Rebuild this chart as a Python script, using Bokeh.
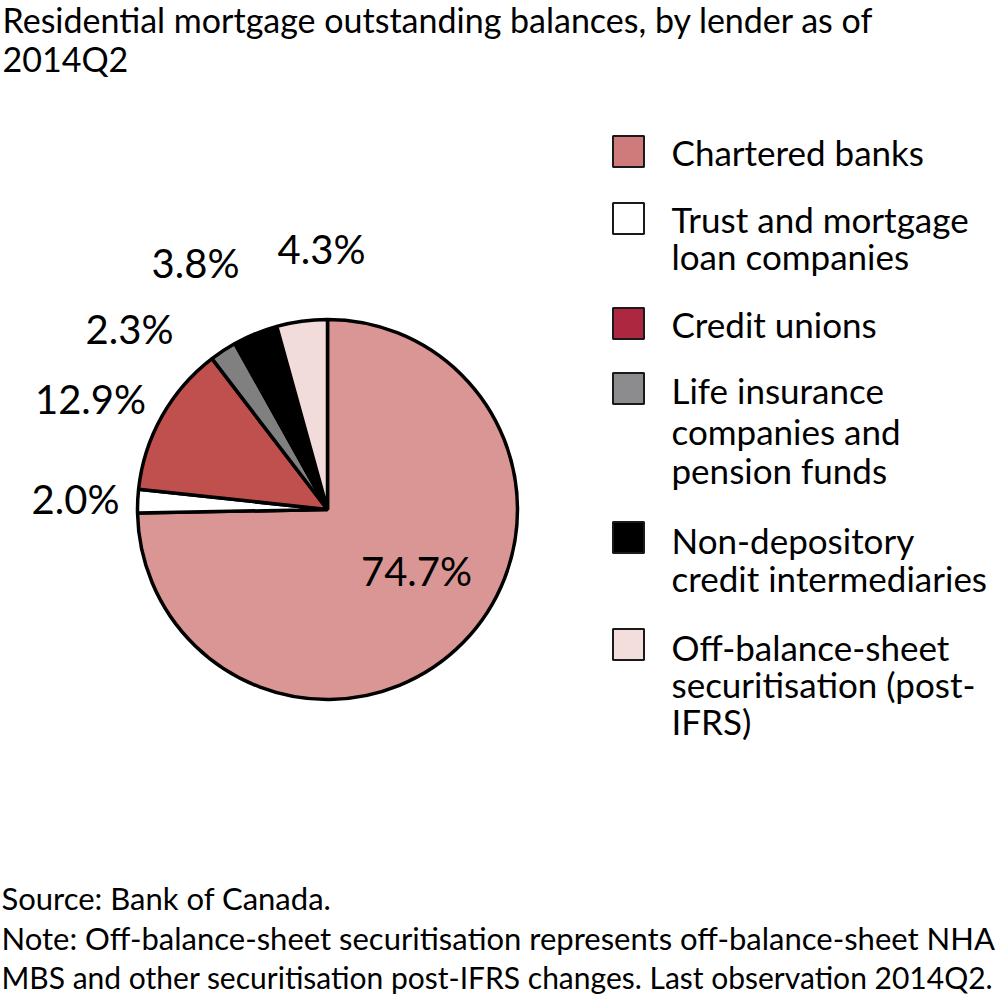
import numpy as np
from bokeh.plotting import figure
from bokeh.models import Range1d, ColumnDataSource
from bokeh.core.properties import value
from bokeh.embed import file_html
from bokeh.resources import INLINE

# ---------------- data ----------------
categories = [
    "Chartered banks",
    "Trust and mortgage loan companies",
    "Credit unions",
    "Life insurance companies and pension funds",
    "Non-depository credit intermediaries",
    "Off-balance-sheet securitisation (post-IFRS)",
]
shares = [74.7, 2.0, 12.9, 2.3, 3.8, 4.3]
legend_lines = [
    ["Chartered banks"],
    ["Trust and mortgage", "loan companies"],
    ["Credit unions"],
    ["Life insurance", "companies and", "pension funds"],
    ["Non-depository", "credit intermediaries"],
    ["Off-balance-sheet", "securitisation (post-", "IFRS)"],
]
title_lines = ["Residential mortgage outstanding balances, by lender as of", "2014Q2"]
source_text = "Source: Bank of Canada."
note_lines = [
    "Note: Off-balance-sheet securitisation represents off-balance-sheet NHA",
    "MBS and other securitisation post-IFRS changes. Last observation 2014Q2.",
]

# ---------------- styles ----------------
slice_colors = ["#da9694", "#ffffff", "#c0504d", "#808080", "#000000", "#f2dcdb"]
legend_colors = ["#cf7b7b", "#ffffff", "#ae2740", "#8c8c8e", "#000000", "#f3dddd"]
FONT = "Lato"

# ---------------- layout (page pixels) ----------------
W, H = 1001, 1002
def Y(v):
    return H - v

cx, cy, R = 327, 509, 190
label_pos = [(416, 570), (75, 498), (90, 398), (129, 328), (195, 262), (321, 248)]
legend_x_sq, legend_sq = 628, 31
legend_x_txt = 671
legend_square_y = [151, 218, 323, 388, 537, 644]
legend_line_y = [[151], [218, 255], [323], [389, 430, 469], [539, 577], [646, 683, 720]]

p = figure(width=W, height=H, x_range=Range1d(0, W), y_range=Range1d(0, H),
           toolbar_location=None, output_backend="svg", min_border=0,
           x_axis_location=None, y_axis_location=None)
p.grid.visible = False
p.outline_line_color = None
p.background_fill_color = "white"
p.border_fill_color = "white"

# pie: clockwise from 12 o'clock
vals = np.array(shares, dtype=float)
frac = vals / vals.sum()
cum_after = np.cumsum(frac)
cum_before = cum_after - frac
start = np.pi / 2 - 2 * np.pi * cum_before
end = np.pi / 2 - 2 * np.pi * cum_after
pie_src = ColumnDataSource(dict(start=start, end=end, color=slice_colors, cat=categories))
p.wedge(x=cx, y=Y(cy), radius=R, start_angle="start", end_angle="end", direction="clock",
        fill_color="color", line_color="black", line_width=3.5, source=pie_src)

# percent labels
lab_src = ColumnDataSource(dict(
    x=[q[0] for q in label_pos], y=[Y(q[1]) for q in label_pos],
    t=[f"{v:.1f}%" for v in shares]))
p.text(x="x", y="y", text="t", source=lab_src, text_font=value(FONT), text_font_size="40px",
       text_align="center", text_baseline="middle", text_color="black")

# legend
p.rect(x=[legend_x_sq] * len(categories), y=[Y(v) for v in legend_square_y],
       width=legend_sq, height=legend_sq, fill_color=legend_colors, line_color="#1a1a1a", line_width=2)
lx, ly, lt = [], [], []
for lines, ys in zip(legend_lines, legend_line_y):
    for s, yy in zip(lines, ys):
        lx.append(legend_x_txt); ly.append(Y(yy)); lt.append(s)
p.text(x=lx, y=ly, text=lt, text_font=value(FONT), text_font_size="35px",
       text_align="left", text_baseline="middle", text_color="black")

# title
p.text(x=[2, 2], y=[Y(19), Y(58)], text=title_lines, text_font=value(FONT), text_font_size="34px",
       text_align="left", text_baseline="middle", text_color="black")

# footer
p.text(x=[1, 1], y=[Y(897), Y(937)], text=[source_text, note_lines[0]],
       text_font=value(FONT), text_font_size="31px",
       text_align="left", text_baseline="middle", text_color="black")
p.text(x=[1], y=[Y(976)], text=[note_lines[1]],
       text_font=value(FONT), text_font_size="30px",
       text_align="left", text_baseline="middle", text_color="black")

open("out.html", "w").write(file_html(p, INLINE))
